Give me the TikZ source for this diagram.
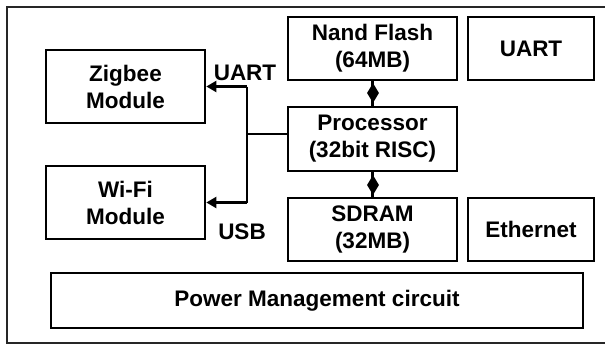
\documentclass[tikz,border=0pt]{standalone}
\usepackage{fontspec}
\setmainfont{Liberation Sans}
\usetikzlibrary{arrows.meta,shapes.geometric}
\begin{document}
\begin{tikzpicture}[x=1pt,y=-1pt,
  blk/.style={draw,line width=2.7pt,align=center,inner sep=0pt,
    font=\fontsize{22.5}{27}\selectfont\bfseries},
  lbl/.style={inner sep=0pt,font=\fontsize{22.5}{27}\selectfont\bfseries},
  conn/.style={line width=2.2pt},
  arr/.style={conn,-{Triangle[length=10pt,width=11pt]}},
  dia/.style={diamond,fill=black,draw=none,inner sep=0pt,minimum width=12pt,minimum height=20pt}]
\useasboundingbox (0,0) rectangle (605,345);
\draw[line width=1.5pt,draw=black!85] (7,7) rectangle (610,343);
\node[blk,minimum width=159pt,minimum height=73pt] (zig) at (125.5,86.5) {Zigbee\\Module};
\node[blk,minimum width=159pt,minimum height=73pt] (wifi) at (125.5,202.5) {Wi-Fi\\Module};
\node[blk,minimum width=169pt,minimum height=63pt] (nand) at (372.5,48.5) {Nand Flash\\(64MB)};
\node[blk,minimum width=126pt,minimum height=63pt] (uart) at (531,48.5) {UART};
\node[blk,minimum width=169pt,minimum height=64pt] (proc) at (372.5,139) {Processor\\(32bit RISC)};
\node[blk,minimum width=169pt,minimum height=63pt] (sdram) at (372.5,229.5) {SDRAM\\(32MB)};
\node[blk,minimum width=126pt,minimum height=63pt] (eth) at (531,229.5) {Ethernet};
\node[blk,minimum width=532pt,minimum height=55pt] (pwr) at (317,300.5) {Power Management circuit};
\node[lbl] (luart) at (245,73) {UART};
\node[lbl] (lusb) at (242,232) {USB};
\coordinate (jt) at (247,86.5);
\coordinate (jb) at (247,202.5);
\coordinate (jm) at (247,134);
\draw[arr] (jt) -- (zig.east);
\draw[arr] (jb) -- (wifi.east);
\draw[conn] (jt) -- (jb);
\draw[conn] (jm) -- (jm -| proc.west);
\draw[conn] (nand.south) -- (proc.north);
\draw[conn] (proc.south) -- (sdram.north);
\node[dia] (d1) at (373,93) {};
\node[dia] (d2) at (373,185) {};
\end{tikzpicture}
\end{document}
